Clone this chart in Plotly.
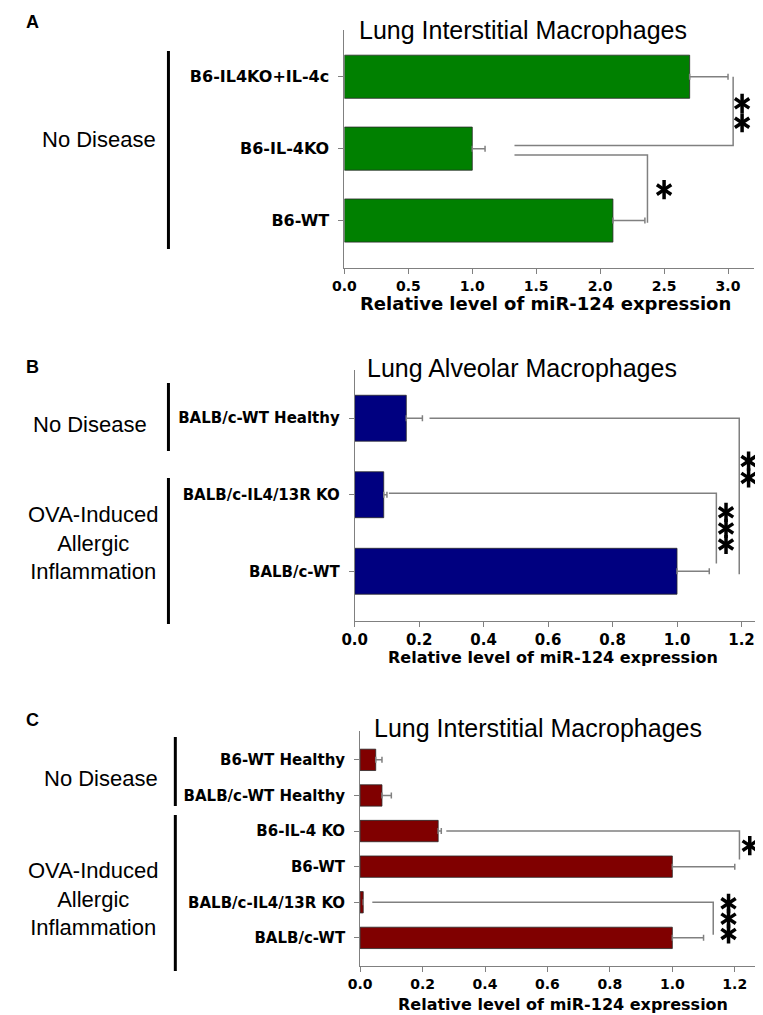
import plotly.graph_objects as go

W, H = 763, 1015

# ---------------- data ----------------
a_cats = ["B6-IL4KO+IL-4c", "B6-IL-4KO", "B6-WT"]
a_vals = [2.7, 1.0, 2.1]
a_err = [0.30, 0.10, 0.25]
a_ticks = [0.0, 0.5, 1.0, 1.5, 2.0, 2.5, 3.0]

b_cats = ["BALB/c-WT Healthy", "BALB/c-IL4/13R KO", "BALB/c-WT"]
b_vals = [0.16, 0.09, 1.0]
b_err = [0.05, 0.01, 0.10]
b_ticks = [0.0, 0.2, 0.4, 0.6, 0.8, 1.0, 1.2]

c_cats = ["B6-WT Healthy", "BALB/c-WT Healthy", "B6-IL-4 KO", "B6-WT",
          "BALB/c-IL4/13R KO", "BALB/c-WT"]
c_vals = [0.05, 0.07, 0.25, 1.0, 0.01, 1.0]
c_err = [0.02, 0.03, 0.01, 0.20, 0.0, 0.10]
c_ticks = [0.0, 0.2, 0.4, 0.6, 0.8, 1.0, 1.2]

titles = ["Lung Interstitial Macrophages", "Lung Alveolar Macrophages",
          "Lung Interstitial Macrophages"]
x_title = "Relative level of miR-124 expression"

# significance brackets: polyline (x list, y list in data units), stars
a_brackets = [
    dict(x=[1.33, 3.04, 3.04], y=[0.955, 0.955, 0.0], star_x=3.11, star_y=[0.37, 0.64]),
    dict(x=[1.33, 2.37, 2.37], y=[1.09, 1.09, 2.03], star_x=2.50, star_y=[1.57]),
]
b_brackets = [
    dict(x=[0.232, 1.193, 1.193], y=[0.0, 0.0, 2.04], star_x=1.222, star_y=[0.56, 0.78]),
    dict(x=[0.106, 1.122, 1.122], y=[0.98, 0.98, 1.90], star_x=1.152, star_y=[1.23, 1.44, 1.65]),
]
c_brackets = [
    dict(x=[0.276, 1.215, 1.215], y=[2.0, 2.0, 2.8], star_x=1.248, star_y=[2.41]),
    dict(x=[0.039, 1.131, 1.131], y=[4.0, 4.0, 4.91], star_x=1.18, star_y=[4.03, 4.46, 4.89]),
]

# ---------------- layout helpers ----------------
def fx(px):
    return px / W

def fy(py):
    return 1 - py / H

GRAY = "#808080"
LABEL_FONT = "DejaVu Sans"
TEXT_FONT = "Liberation Sans, Arial, sans-serif"

panels = [
    dict(cats=a_cats, vals=a_vals, err=a_err, ticks=a_ticks, color="#008000",
         brackets=a_brackets, xpx=(329, 745.3), ypx=(22, 260), xrange=[0, 3.2],
         yrange=[2.66, -0.65], catsize=16, ticksize=14, title=titles[0],
         title_pos=(511, 22), xt_pos=(534, 295), xt_size=18, letter="A", letter_pos=(12, 14)),
    dict(cats=b_cats, vals=b_vals, err=b_err, ticks=b_ticks, color="#000080",
         brackets=b_brackets, xpx=(339.5, 752), ypx=(362, 613), xrange=[0, 1.258],
         yrange=[2.65, -0.63], catsize=15, ticksize=15, title=titles[1],
         title_pos=(510, 360), xt_pos=(541, 649), xt_size=16, letter="B", letter_pos=(12, 359)),
    dict(cats=c_cats, vals=c_vals, err=c_err, ticks=c_ticks, color="#800000",
         brackets=c_brackets, xpx=(345, 756), ypx=(723, 958), xrange=[0, 1.294],
         yrange=[5.79, -0.81], catsize=15, ticksize=14, title=titles[2],
         title_pos=(526, 720), xt_pos=(551, 996), xt_size=16, letter="C", letter_pos=(12, 712)),
]

fig = go.Figure()
annotations = []
shapes = []

for i, p in enumerate(panels):
    sfx = "" if i == 0 else str(i + 1)
    xa, ya = "x" + sfx, "y" + sfx
    n = len(p["cats"])
    idx = list(range(n))
    fig.add_trace(go.Bar(
        x=p["vals"], y=idx, orientation="h", width=0.6,
        marker=dict(color=p["color"], line=dict(color="#2a2a2a", width=0.8)),
        error_x=dict(type="data", array=p["err"], arrayminus=[0] * n,
                     symmetric=False, color=GRAY, thickness=1.5, width=3),
        xaxis=xa, yaxis=ya, hoverinfo="skip"))
    sx, sy = [], []
    for br in p["brackets"]:
        fig.add_trace(go.Scatter(x=br["x"], y=br["y"], mode="lines",
                                 line=dict(color=GRAY, width=1.5),
                                 xaxis=xa, yaxis=ya, hoverinfo="skip"))
        for yv in br["star_y"]:
            sx.append(br["star_x"])
            sy.append(yv)
    # asterisks drawn as six-armed markers (two overlaid Y symbols)
    for sym in ["y-up-open", "y-down-open"]:
        fig.add_trace(go.Scatter(x=sx, y=sy, mode="markers",
                                 marker=dict(symbol=sym, size=12, color="black",
                                             line=dict(color="black", width=3.5)),
                                 xaxis=xa, yaxis=ya, hoverinfo="skip"))
    fig.layout["xaxis" + sfx] = dict(
        domain=[fx(p["xpx"][0]), fx(p["xpx"][1])], anchor=ya, range=p["xrange"],
        tickvals=p["ticks"], ticktext=[f"{t:.1f}" for t in p["ticks"]],
        showline=True, linecolor=GRAY, linewidth=1, ticks="outside", ticklen=5,
        tickcolor=GRAY, tickwidth=1, showgrid=False, zeroline=False,
        tickfont=dict(family=LABEL_FONT, size=p["ticksize"], color="black", weight="bold"))
    fig.layout["yaxis" + sfx] = dict(
        domain=[fy(p["ypx"][1]), fy(p["ypx"][0])], anchor=xa, range=p["yrange"],
        tickvals=idx, ticktext=p["cats"], showline=True, linecolor=GRAY, linewidth=1,
        ticks="outside", ticklen=5, tickcolor=GRAY, tickwidth=1, showgrid=False,
        zeroline=False, ticklabelstandoff=6,
        tickfont=dict(family=LABEL_FONT, size=p["catsize"], color="black", weight="bold"))
    annotations.append(dict(x=fx(p["title_pos"][0]), y=fy(p["title_pos"][1]), xref="paper",
                            yref="paper", text=p["title"], showarrow=False,
                            font=dict(family=TEXT_FONT, size=25, color="black"),
                            xanchor="center", yanchor="middle"))
    annotations.append(dict(x=fx(p["xt_pos"][0]), y=fy(p["xt_pos"][1]), xref="paper",
                            yref="paper", text=x_title, showarrow=False,
                            font=dict(family=LABEL_FONT, size=p["xt_size"], color="black", weight="bold"),
                            xanchor="center", yanchor="middle"))
    annotations.append(dict(x=fx(p["letter_pos"][0]), y=fy(p["letter_pos"][1]), xref="paper",
                            yref="paper", text=p["letter"], showarrow=False,
                            font=dict(family=TEXT_FONT, size=18, color="black", weight="bold"),
                            xanchor="center", yanchor="middle"))

# group labels and their vertical separators (pixel layout)
groups = [
    dict(text="No Disease", pos=(79, 132), line=(150, 43, 241)),
    dict(text="No Disease", pos=(70, 417), line=(150, 375, 443)),
    dict(text="OVA-Induced<br>Allergic<br>Inflammation", pos=(73, 535), line=(150, 470, 616)),
    dict(text="No Disease", pos=(81, 770), line=(157, 729, 798)),
    dict(text="OVA-Induced<br>Allergic<br>Inflammation", pos=(73, 891), line=(157, 807, 963)),
]
for g in groups:
    annotations.append(dict(x=fx(g["pos"][0]), y=fy(g["pos"][1]), xref="paper", yref="paper",
                            text=g["text"], showarrow=False, align="center",
                            font=dict(family=TEXT_FONT, size=22, color="black"),
                            xanchor="center", yanchor="middle"))
    lx, y0, y1 = g["line"]
    shapes.append(dict(type="line", xref="paper", yref="paper", x0=fx(lx), x1=fx(lx),
                       y0=fy(y0), y1=fy(y1), line=dict(color="black", width=3)))

fig.update_layout(width=W, height=H, margin=dict(l=0, r=0, t=0, b=0),
                  paper_bgcolor="white", plot_bgcolor="white", showlegend=False,
                  annotations=annotations, shapes=shapes, bargap=0.4)

fig.write_html("out.html")
